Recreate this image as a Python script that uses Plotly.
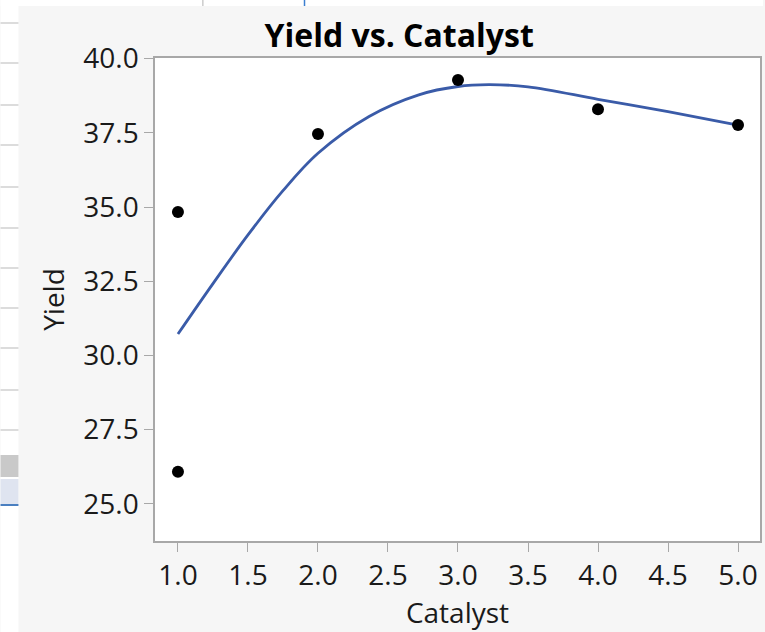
import plotly.graph_objects as go

# Data
catalyst = [1, 1, 2, 3, 4, 5]
yield_vals = [34.83, 26.08, 37.46, 39.28, 38.29, 37.76]

fit_x = [1.0, 1.25, 1.5, 1.75, 2.0, 2.365, 2.72, 3.0, 3.22, 3.5, 4.0, 4.5, 5.0]
fit_y = [30.72, 32.42, 34.06, 35.55, 36.81, 38.05, 38.78, 39.06, 39.12, 39.05, 38.63, 38.21, 37.76]

x_ticks = [1.0, 1.5, 2.0, 2.5, 3.0, 3.5, 4.0, 4.5, 5.0]
y_ticks = [25.0, 27.5, 30.0, 32.5, 35.0, 37.5, 40.0]

W, H = 765, 632
L, R, T, B = 155, 762, 58, 541

def px(x):
    return (x - L) / (R - L)

def py(y):
    return (B - y) / (B - T)

FONT = "Open Sans"
TXT = "#1a1a1a"

fig = go.Figure()
fig.add_trace(go.Scatter(x=fit_x, y=fit_y, mode="lines",
                         line=dict(color="#3a5ba8", width=2.8, shape="spline", smoothing=1.0),
                         hoverinfo="skip", showlegend=False))
fig.add_trace(go.Scatter(x=catalyst, y=yield_vals, mode="markers",
                         marker=dict(color="black", size=12), showlegend=False))

shapes = []
# white outer strips (left and top)
shapes.append(dict(type="rect", xref="paper", yref="paper", x0=px(0), x1=px(18), y0=py(H), y1=py(0),
                   fillcolor="white", line=dict(width=0), layer="below"))
shapes.append(dict(type="rect", xref="paper", yref="paper", x0=px(0), x1=px(W), y0=py(6), y1=py(0),
                   fillcolor="white", line=dict(width=0), layer="below"))
# left strip row lines
for yy in [23, 63, 105, 145, 187, 228, 268, 308, 348, 390, 430]:
    shapes.append(dict(type="line", xref="paper", yref="paper", x0=px(0), x1=px(18), y0=py(yy), y1=py(yy),
                       line=dict(color="#dcdcdc", width=2), layer="below"))
shapes.append(dict(type="rect", xref="paper", yref="paper", x0=px(0), x1=px(18), y0=py(477), y1=py(455),
                   fillcolor="#c9c9c9", line=dict(width=0), layer="below"))
shapes.append(dict(type="rect", xref="paper", yref="paper", x0=px(0), x1=px(18), y0=py(504), y1=py(479),
                   fillcolor="#dfe4f0", line=dict(width=0), layer="below"))
shapes.append(dict(type="line", xref="paper", yref="paper", x0=px(0), x1=px(18), y0=py(505), y1=py(505),
                   line=dict(color="#4a7fc0", width=2), layer="below"))
# top strip vertical lines
shapes.append(dict(type="line", xref="paper", yref="paper", x0=px(203), x1=px(203), y0=py(6), y1=py(0),
                   line=dict(color="#cccccc", width=1.5), layer="below"))
shapes.append(dict(type="line", xref="paper", yref="paper", x0=px(305), x1=px(305), y0=py(6), y1=py(0),
                   line=dict(color="#3c7fd0", width=1.5), layer="below"))

axis_common = dict(showgrid=False, zeroline=False, showline=True, linecolor="#a8a8a8", linewidth=1.5,
                   mirror=True, ticks="outside", ticklen=9, tickcolor="#a8a8a8", tickwidth=1,
                   tickfont=dict(family=FONT, size=28, color=TXT))

fig.update_layout(
    width=W, height=H,
    margin=dict(l=L, r=W - R, t=T, b=H - B),
    paper_bgcolor="#f6f6f6", plot_bgcolor="white",
    shapes=shapes,
    title=dict(text="<b>Yield vs. Catalyst</b>", x=px(400), xanchor="center", xref="paper",
               y=1 - 36 / H, yanchor="middle", font=dict(family=FONT, size=32, color="black")),
    xaxis=dict(range=[0.836, 5.157], tickvals=x_ticks, ticktext=[f"{v:.1f}" for v in x_ticks],
               title=dict(text="Catalyst", font=dict(family=FONT, size=28, color=TXT), standoff=6),
               **axis_common),
    yaxis=dict(range=[23.75, 40.02], tickvals=y_ticks, ticktext=[f"{v:.1f}" for v in y_ticks],
               title=dict(text="Yield", font=dict(family=FONT, size=28, color=TXT), standoff=10),
               **axis_common),
)

fig.write_html("out.html", config={"displayModeBar": False},
               post_script="document.body.style.margin='0';document.body.style.overflow='hidden';")
